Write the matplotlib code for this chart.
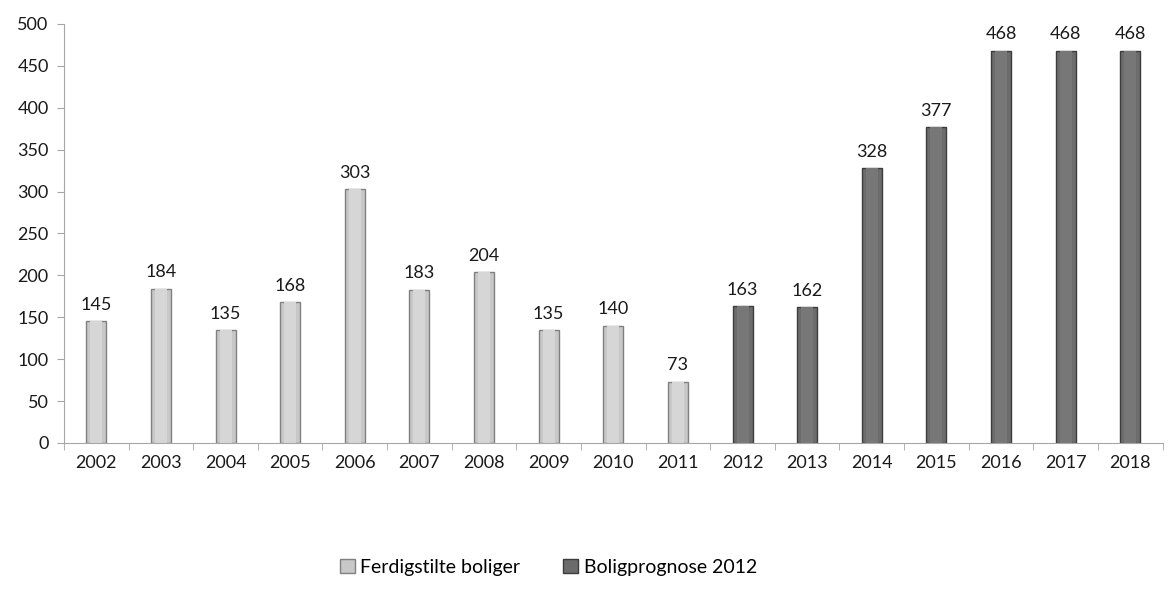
import numpy as np
import matplotlib
matplotlib.use('Agg')
import matplotlib.pyplot as plt

# Data
years_done = [2002, 2003, 2004, 2005, 2006, 2007, 2008, 2009, 2010, 2011]
done = [145, 184, 135, 168, 303, 183, 204, 135, 140, 73]
years_prog = [2012, 2013, 2014, 2015, 2016, 2017, 2018]
prog = [163, 162, 328, 377, 468, 468, 468]

all_years = years_done + years_prog

plt.rcParams['font.family'] = ['Lato', 'DejaVu Sans']

fig = plt.figure(figsize=(11.72, 5.92), dpi=100)
ax = fig.add_axes([0.0546, 0.2517, 0.9374, 0.7078])

x_done = np.arange(len(years_done))
x_prog = np.arange(len(years_done), len(all_years))
w = 0.31

b1 = ax.bar(x_done, done, width=w, color='#c8c8c8', edgecolor='#808080',
            linewidth=1.0, label='Ferdigstilte boliger')
b2 = ax.bar(x_prog, prog, width=w, color='#6c6c6c', edgecolor='#3c3c3c',
            linewidth=1.0, label='Boligprognose 2012')

# lighter inner stripe to hint at the bevel look
ax.bar(x_done, done, width=w * 0.6, color='#d6d6d6', linewidth=0)
ax.bar(x_prog, prog, width=w * 0.6, color='#777777', linewidth=0)

for bars, vals in ((b1, done), (b2, prog)):
    for rect, v in zip(bars, vals):
        ax.annotate(str(v), (rect.get_x() + rect.get_width() / 2, v),
                    xytext=(0, 6), textcoords='offset points',
                    ha='center', va='bottom', fontsize=13, color='#1a1a1a')

ax.set_xlim(-0.5, len(all_years) - 0.5)
ax.set_ylim(0, 500)
ax.set_yticks(range(0, 501, 50))
ax.set_xticks(np.arange(len(all_years)))
ax.set_xticklabels([str(y) for y in all_years])
ax.set_xticks(np.arange(-0.5, len(all_years), 1.0), minor=True)
ax.tick_params(axis='x', which='major', length=0, pad=9, labelsize=13, labelcolor='#1a1a1a')
ax.tick_params(axis='x', which='minor', length=5, color='#a6a6a6')
ax.tick_params(axis='y', length=5, color='#a6a6a6', pad=6, labelsize=13, labelcolor='#1a1a1a')

for s in ('top', 'right'):
    ax.spines[s].set_visible(False)
for s in ('left', 'bottom'):
    ax.spines[s].set_color('#a6a6a6')

fig.legend(handles=[b1, b2], loc='center', bbox_to_anchor=(0.468, 0.042),
           ncol=2, frameon=False, fontsize=14, handlelength=0.75,
           handleheight=0.75, handletextpad=0.3, columnspacing=2.2)

fig.savefig('out.png', dpi=100)
